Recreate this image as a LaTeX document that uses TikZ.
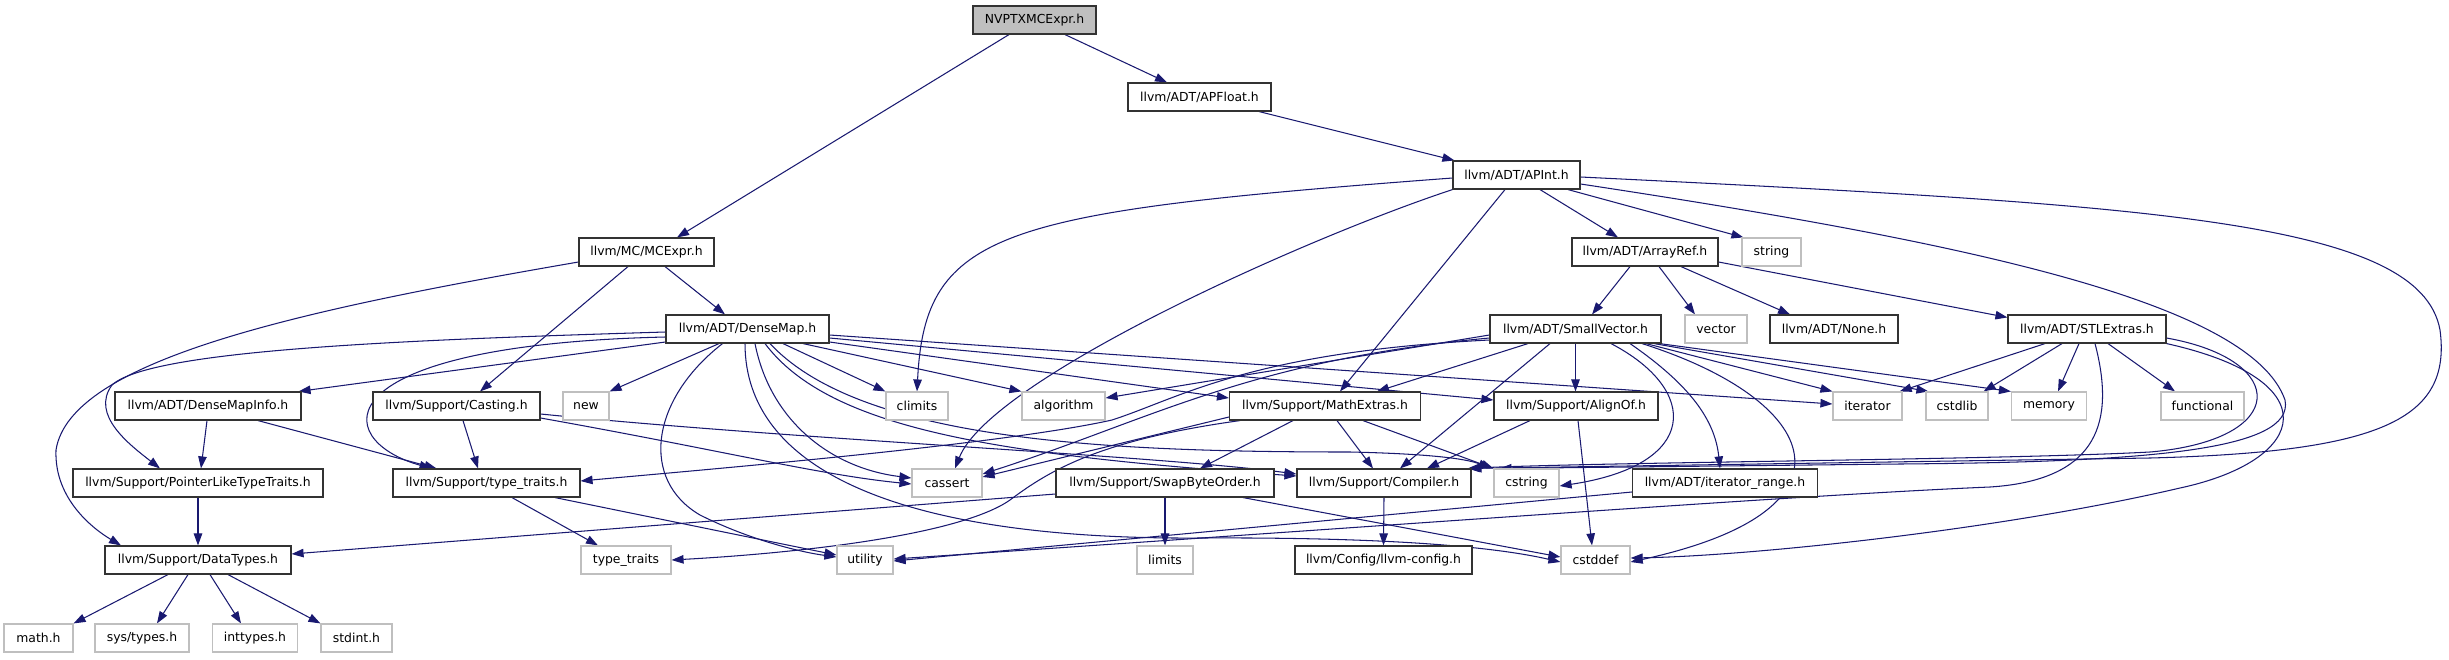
\documentclass[tikz,border=0pt]{standalone}
\usepackage{fontspec}
\setmainfont{DejaVu Sans}
\usetikzlibrary{arrows.meta}
\definecolor{edgeblue}{HTML}{191970}
\definecolor{sysgray}{HTML}{BFBFBF}
\pgfdeclarelayer{bg}
\pgfsetlayers{bg,main}
\begin{document}
\begin{tikzpicture}[x=1pt,y=-1pt,
 hdr/.style={draw=black!80, fill=white, line width=1.15pt, minimum height=28pt, inner sep=0pt, font=\fontsize{12.4}{14}\selectfont},
 sys/.style={hdr, draw=sysgray},
 root/.style={hdr, fill=sysgray},
 dep/.style={draw=edgeblue, line width=1.05pt, -{Triangle[length=12pt,width=8.5pt]}}]
\useasboundingbox (0,0) rectangle (2449,659);
% row 1-4
\node[root, minimum width=123pt] (nv) at (1034.5,20) {NVPTXMCExpr.h};
\node[hdr, minimum width=143pt] (apfloat) at (1199.5,97) {llvm/ADT/APFloat.h};
\node[hdr, minimum width=127pt] (apint) at (1516.5,175) {llvm/ADT/APInt.h};
\node[hdr, minimum width=135pt] (mcexpr) at (646.5,252) {llvm/MC/MCExpr.h};
\node[hdr, minimum width=146pt] (arrayref) at (1645,252) {llvm/ADT/ArrayRef.h};
\node[sys, minimum width=59pt] (string) at (1771.5,252) {string};
% row 5
\node[hdr, minimum width=163pt] (densemap) at (747.5,329) {llvm/ADT/DenseMap.h};
\node[hdr, minimum width=171pt] (smallvec) at (1575.5,329) {llvm/ADT/SmallVector.h};
\node[sys, minimum width=62pt] (vector) at (1716,329) {vector};
\node[hdr, minimum width=128pt] (none) at (1834,329) {llvm/ADT/None.h};
\node[hdr, minimum width=158pt] (stlextras) at (2087,329) {llvm/ADT/STLExtras.h};
% row 6
\node[hdr, minimum width=186pt] (dmi) at (208,406) {llvm/ADT/DenseMapInfo.h};
\node[hdr, minimum width=167pt] (casting) at (456.5,406) {llvm/Support/Casting.h};
\node[sys, minimum width=46pt] (new) at (586,406) {new};
\node[sys, minimum width=62pt] (climits) at (917,406) {climits};
\node[sys, minimum width=83pt] (algorithm) at (1063.5,406) {algorithm};
\node[hdr, minimum width=191pt] (mathextras) at (1325,406) {llvm/Support/MathExtras.h};
\node[hdr, minimum width=164pt] (alignof) at (1576,406) {llvm/Support/AlignOf.h};
\node[sys, minimum width=69pt] (iterator) at (1867.5,406) {iterator};
\node[sys, minimum width=62pt] (cstdlib) at (1957,406) {cstdlib};
\node[sys, minimum width=75pt] (memory) at (2049,406) {memory};
\node[sys, minimum width=83pt] (functional) at (2202.5,406) {functional};
% row 7
\node[hdr, minimum width=250pt] (plt) at (198,483) {llvm/Support/PointerLikeTypeTraits.h};
\node[hdr, minimum width=187pt] (tth) at (486.5,483) {llvm/Support/type\_traits.h};
\node[sys, minimum width=70pt] (cassert) at (947,483) {cassert};
\node[hdr, minimum width=218pt] (swap) at (1165,483) {llvm/Support/SwapByteOrder.h};
\node[hdr, minimum width=174pt] (compiler) at (1384,483) {llvm/Support/Compiler.h};
\node[sys, minimum width=65pt] (cstring) at (1526.5,483) {cstring};
\node[hdr, minimum width=185pt] (itrange) at (1725,483) {llvm/ADT/iterator\_range.h};
% row 8
\node[hdr, minimum width=186pt] (datatypes) at (198,560) {llvm/Support/DataTypes.h};
\node[sys, minimum width=90pt] (typetraits) at (626,560) {type\_traits};
\node[sys, minimum width=56pt] (utility) at (865,560) {utility};
\node[sys, minimum width=56pt] (limits) at (1165,560) {limits};
\node[hdr, minimum width=177pt] (llvmconfig) at (1383.5,560) {llvm/Config/llvm-config.h};
\node[sys, minimum width=69pt] (cstddef) at (1595.5,560) {cstddef};
% row 9
\node[sys, minimum width=69pt] (math) at (38.5,638) {math.h};
\node[sys, minimum width=94pt] (systypes) at (142,638) {sys/types.h};
\node[sys, minimum width=85pt] (inttypes) at (255,638) {inttypes.h};
\node[sys, minimum width=71pt] (stdint) at (356.5,638) {stdint.h};

\begin{pgfonlayer}{bg}
% root
\draw[dep] ([xshift=30.5pt]nv.south) -- ([xshift=-32.5pt]apfloat.north);
\draw[dep] ([xshift=-25.5pt]nv.south) -- ([xshift=30.5pt]mcexpr.north);
\draw[dep] ([xshift=59.5pt]apfloat.south) -- ([xshift=2pt]apint.north west);
% MCExpr
\draw[dep] ([xshift=18.5pt]mcexpr.south) -- ([xshift=-22.5pt]densemap.north);
\draw[dep] ([xshift=-18.5pt]mcexpr.south) -- ([xshift=23.5pt]casting.north);
\draw[dep] ([yshift=-10pt]mcexpr.west) .. controls (300,310) and (70,360) .. (56,450) .. controls (54,500) and (95,530) .. ([xshift=-77pt]datatypes.north);
% APInt
\draw[dep] ([yshift=-3pt]apint.west) .. controls (1000,212) and (925,230) .. (climits.north);
\draw[dep] (apint.south west) .. controls (1300,240) and (990,380) .. ([xshift=8pt]cassert.north);
\draw[dep] ([xshift=-11.5pt]apint.south) -- ([xshift=15pt]mathextras.north);
\draw[dep] ([xshift=23.5pt]apint.south) -- ([xshift=-27pt]arrayref.north);
\draw[dep] ([xshift=51.5pt]apint.south) -- ([xshift=2pt]string.north west);
\draw[dep] ([yshift=-9pt]apint.east) .. controls (1950,240) and (2250,300) .. (2285,400) .. controls (2295,450) and (2150,462) .. (1900,464) -- ([xshift=6pt]cstring.north west);
\draw[dep] ([yshift=-2pt]apint.east) .. controls (2150,205) and (2420,220) .. (2440,330) .. controls (2452,420) and (2380,452) .. (2150,458) -- ([xshift=-2pt]compiler.north east);
% STLExtras
\draw[dep] ([xshift=-42pt]stlextras.south) -- ([xshift=-3pt]iterator.north east);
\draw[dep] ([xshift=-25pt]stlextras.south) -- ([xshift=-5pt]cstdlib.north east);
\draw[dep] ([xshift=-8pt]stlextras.south) -- ([xshift=9pt]memory.north);
\draw[dep] ([xshift=21pt]stlextras.south) -- ([xshift=-27.5pt]functional.north);
\draw[dep] ([xshift=8pt]stlextras.south) .. controls (2115,420) and (2100,480) .. (1990,487) .. controls (1800,495) and (1400,525) .. ([yshift=1pt]utility.east);
\draw[dep] ([yshift=-9pt]stlextras.east) .. controls (2290,360) and (2290,440) .. (2150,452) .. controls (2000,460) and (1600,462) .. ([xshift=-4pt]compiler.north east);
\draw[dep] (stlextras.south east) .. controls (2330,380) and (2310,460) .. (2180,488) .. controls (2000,530) and (1750,556) .. ([yshift=2pt]cstddef.east);
% ArrayRef
\draw[dep] ([xshift=-15pt]arrayref.south) -- ([xshift=16.5pt]smallvec.north);
\draw[dep] ([xshift=14pt]arrayref.south) -- ([xshift=-21pt]vector.north);
\draw[dep] ([xshift=36pt]arrayref.south) -- ([xshift=-44pt]none.north);
\draw[dep] ([yshift=-10pt]arrayref.east) -- ([yshift=-3pt]stlextras.north west);
% SmallVector
\draw[dep] ([xshift=-47.5pt]smallvec.south) -- ([xshift=52pt]mathextras.north);
\draw[dep] ([xshift=-25.5pt]smallvec.south) -- ([xshift=16pt]compiler.north);
\draw[dep] (smallvec.south) -- ([xshift=-0.5pt]alignof.north);
\draw[dep] ([yshift=-6pt]smallvec.west) -- ([yshift=8pt]algorithm.east);
\draw[dep] ([yshift=-9pt]smallvec.west) .. controls (1250,360) and (1150,420) .. ([yshift=9pt]cassert.east);
\draw[dep] ([yshift=-11pt]smallvec.west) .. controls (1250,352) and (1180,398) .. (1112,420) .. controls (1000,445) and (700,470) .. ([yshift=2pt]tth.east);
\draw[dep] ([xshift=70.5pt]smallvec.south) -- (iterator.north west);
\draw[dep] ([xshift=78.5pt]smallvec.south) -- ([xshift=3pt]cstdlib.north west);
\draw[dep] ([xshift=84pt]smallvec.south) -- (memory.north west);
\draw[dep] ([xshift=35.5pt]smallvec.south) .. controls (1700,390) and (1700,465) .. ([yshift=-3pt]cstring.east);
\draw[dep] ([xshift=54.5pt]smallvec.south) .. controls (1690,385) and (1715,420) .. ([xshift=-5pt]itrange.north);
\draw[dep] ([xshift=66.5pt]smallvec.south) .. controls (1820,400) and (1870,510) .. ([yshift=-2pt]cstddef.east);
% MathExtras
\draw[dep] ([xshift=-32pt]mathextras.south) -- ([xshift=35pt]swap.north);
\draw[dep] ([xshift=12pt]mathextras.south) -- ([xshift=-11pt]compiler.north);
\draw[dep] ([xshift=38pt]mathextras.south) -- (cstring.north west);
\draw[dep] ([yshift=-11pt]mathextras.west) -- ([yshift=6pt]cassert.east);
\draw[dep] ([xshift=-85pt]mathextras.south) .. controls (1100,440) and (1050,470) .. (1010,500) .. controls (960,535) and (800,553) .. (typetraits.east);
% Casting
\draw[dep] ([xshift=6.5pt]casting.south) -- ([xshift=-8.5pt]tth.north);
\draw[dep] ([yshift=-12pt]casting.east) .. controls (720,450) and (820,475) .. ([yshift=-1pt]cassert.west);
\draw[dep] ([yshift=-8pt]casting.east) .. controls (800,440) and (1150,455) .. ([yshift=9pt]compiler.west);
% DenseMap
\draw[dep] ([yshift=-13pt]densemap.west) -- ([xshift=-3pt]dmi.north east);
\draw[dep] ([yshift=-3pt]densemap.west) .. controls (400,340) and (150,350) .. (112,385) .. controls (90,415) and (130,445) .. ([xshift=-38pt]plt.north);
\draw[dep] ([yshift=-8pt]densemap.west) .. controls (320,345) and (330,440) .. ([xshift=-55pt]tth.north);
\draw[dep] ([xshift=-28.5pt]densemap.south) -- (new.north east);
\draw[dep] ([xshift=-25pt]densemap.south) .. controls (650,400) and (640,480) .. (700,515) .. controls (750,540) and (800,552) .. ([yshift=3pt]utility.west);
\draw[dep] ([xshift=-2.5pt]densemap.south) .. controls (745,470) and (900,540) .. (1200,538) .. controls (1400,537) and (1500,548) .. ([yshift=-2pt]cstddef.west);
\draw[dep] ([xshift=7.5pt]densemap.south) .. controls (770,420) and (830,468) .. ([yshift=5pt]cassert.west);
\draw[dep] ([xshift=17.5pt]densemap.south) .. controls (830,430) and (1000,455) .. ([yshift=7pt]compiler.west);
\draw[dep] ([xshift=22.5pt]densemap.south) .. controls (860,440) and (1100,452) .. (1350,452) .. controls (1440,454) and (1470,460) .. ([xshift=-3pt]cstring.north west);
\draw[dep] ([xshift=35.5pt]densemap.south) -- (climits.north west);
\draw[dep] ([xshift=55.5pt]densemap.south) -- (algorithm.north west);
\draw[dep] ([yshift=-6pt]densemap.east) -- ([yshift=2pt]iterator.west);
\draw[dep] ([yshift=-9pt]densemap.east) -- ([yshift=6pt]alignof.west);
\draw[dep] ([yshift=-13pt]densemap.east) -- ([yshift=8pt]mathextras.west);
% DenseMapInfo, PointerLike, type_traits.h
\draw[dep] ([xshift=-1pt]dmi.south) -- ([xshift=3pt]plt.north);
\draw[dep] ([xshift=50pt]dmi.south) -- ([xshift=-50pt]tth.north);
\draw[dep] (plt.south) -- (datatypes.north);
\draw[dep] ([xshift=25.5pt]tth.south) -- ([xshift=-28pt]typetraits.north);
\draw[dep] ([xshift=68.5pt]tth.south) -- ([yshift=5pt]utility.west);
% SwapByteOrder
\draw[dep] ([yshift=-11pt]swap.west) -- ([yshift=6pt]datatypes.east);
\draw[dep] (swap.south) -- (limits.north);
\draw[dep] ([xshift=78pt]swap.south) -- ([yshift=3pt]cstddef.west);
% AlignOf, Compiler, iterator_range
\draw[dep] ([xshift=-46pt]alignof.south) -- ([xshift=43pt]compiler.north);
\draw[dep] ([xshift=2pt]alignof.south) -- ([xshift=-3.5pt]cstddef.north);
\draw[dep] (compiler.south) -- (llvmconfig.north);
\draw[dep] ([yshift=-9pt]itrange.west) -- ([yshift=-1pt]utility.east);
% DataTypes
\draw[dep] ([xshift=-30pt]datatypes.south) -- (math.north east);
\draw[dep] ([xshift=-10pt]datatypes.south) -- ([xshift=15pt]systypes.north);
\draw[dep] ([xshift=12pt]datatypes.south) -- ([xshift=-14pt]inttypes.north);
\draw[dep] ([xshift=30pt]datatypes.south) -- (stdint.north west);
\end{pgfonlayer}
\end{tikzpicture}
\end{document}
